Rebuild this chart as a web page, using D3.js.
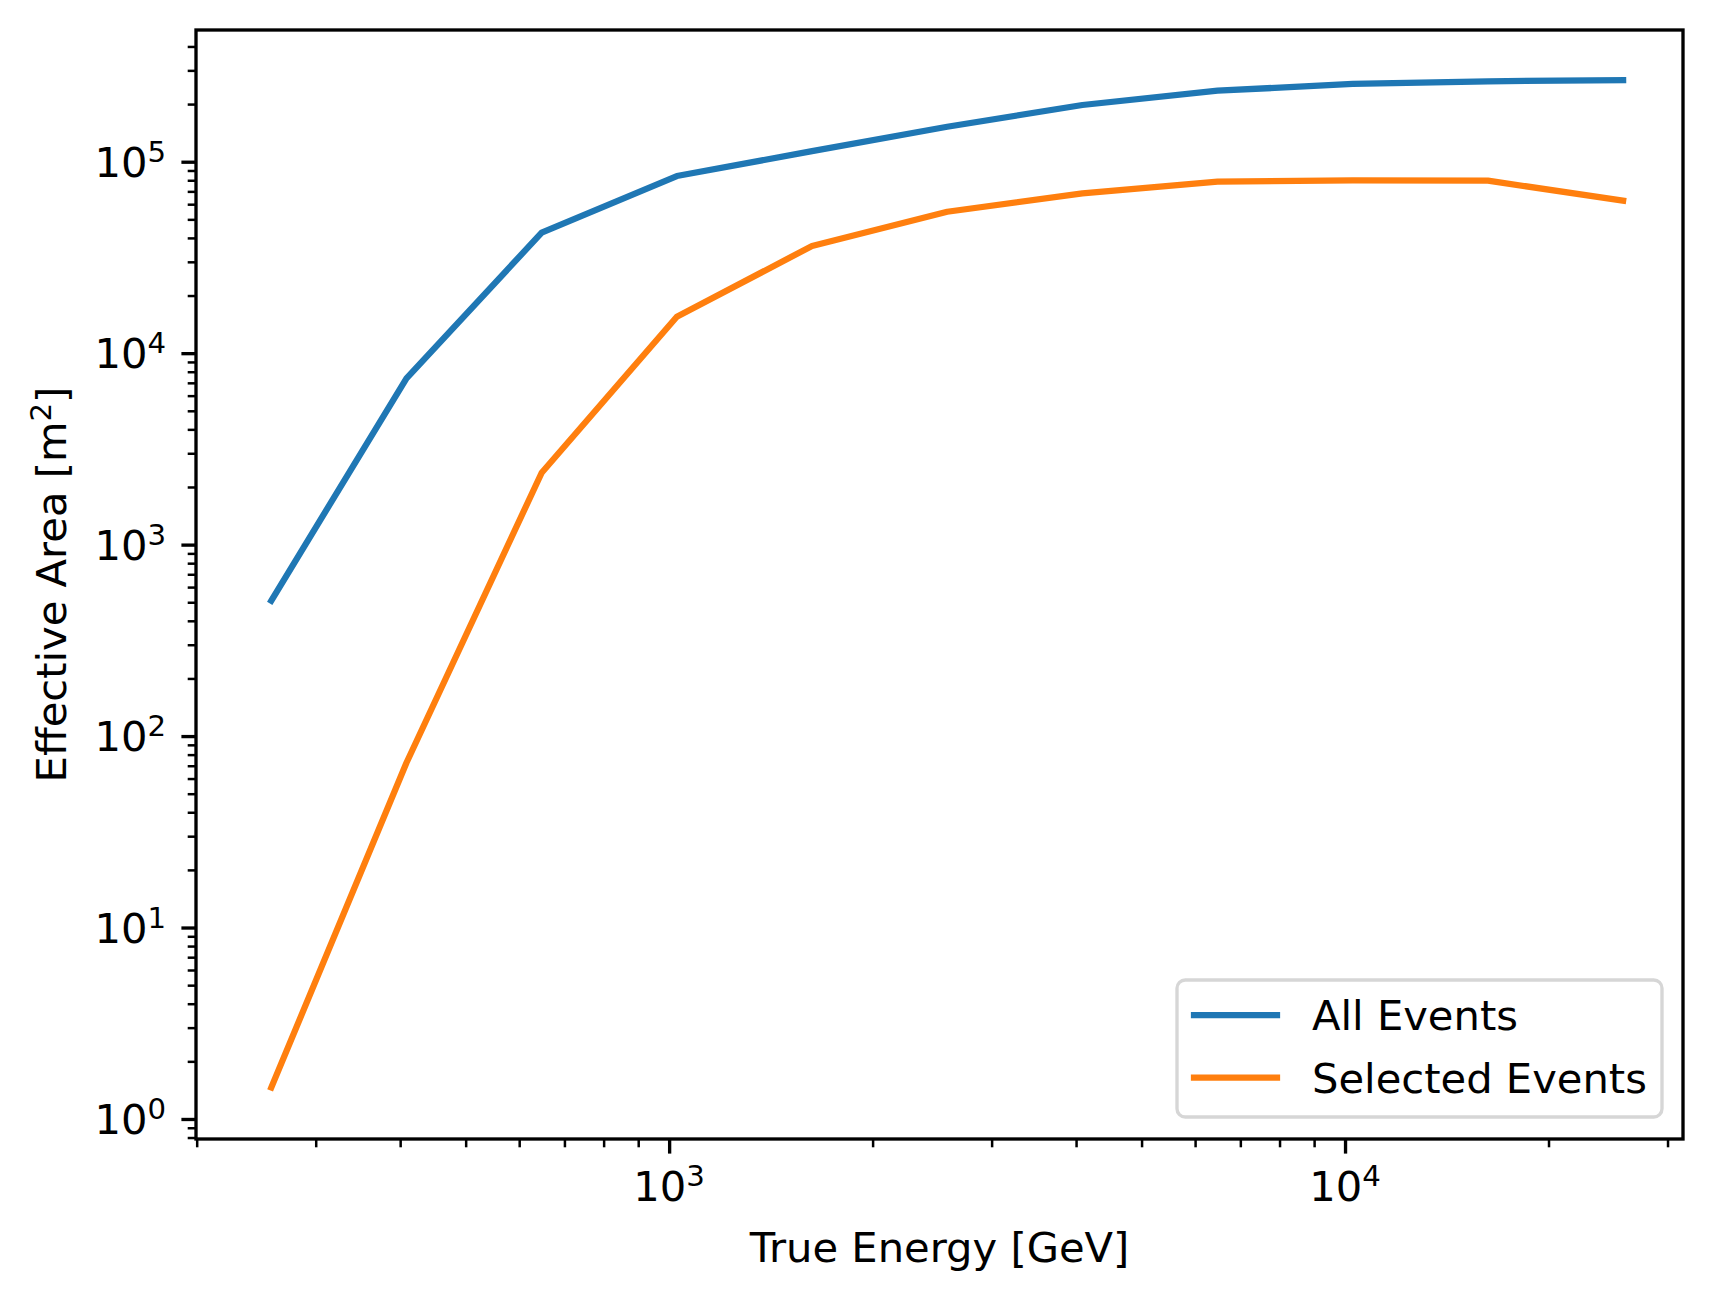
<!DOCTYPE html>
<html>
<head>
<meta charset="utf-8">
<script src="https://cdn.jsdelivr.net/npm/d3@7"></script>
<style>
  html, body { margin: 0; padding: 0; background: #ffffff; }
  svg { display: block; font-family: "DejaVu Sans", sans-serif; }
</style>
</head>
<body>
<svg id="chart" width="1713" height="1303"></svg>
<script>
// ---- data ----
const trueEnergy = [257.9, 408.7, 647.8, 1026.6, 1627.1, 2578.8, 4087.1, 6477.6, 10266, 16271, 25788];
const allEvents = [510, 7390, 42600, 84200, 113500, 152300, 197800, 234900, 254700, 263000, 267000];
const selectedEvents = [1.46, 72.6, 2375, 15500, 36300, 54800, 68400, 78700, 79900, 79600, 62600];
const seriesNames = ["All Events", "Selected Events"];
const seriesColors = ["#1f77b4", "#ff7f0e"];
const xDomain = [199.53, 31623];
const yDomain = [0.786, 487500];
const xTickExponents = [3, 4];
const yTickExponents = [0, 1, 2, 3, 4, 5];
const xLabel = "True Energy [GeV]";
const yLabelMain = "Effective Area [m";
const yLabelSup = "2";
const yLabelEnd = "]";

// ---- layout ----
const W = 1713, H = 1303;
const plot = { left: 196, right: 1683, top: 30, bottom: 1139 };
const FS = 41.67, SUP = 29.2;
const lw = 6.25, axLw = 3.33;
const majLen = 14.6, minLen = 8.3;

const svg = d3.select("#chart");
svg.append("rect").attr("x", 0).attr("y", 0).attr("width", W).attr("height", H).attr("fill", "#fff");

const x = d3.scaleLog().domain(xDomain).range([plot.left, plot.right]);
const y = d3.scaleLog().domain(yDomain).range([plot.bottom, plot.top]);

const xMajor = xTickExponents.map(e => Math.pow(10, e));
const yMajor = yTickExponents.map(e => Math.pow(10, e));
const isMajor = (v, arr) => arr.some(m => Math.abs(v - m) / m < 1e-6);
const xMinor = x.ticks().filter(v => !isMajor(v, xMajor) && v >= xDomain[0] && v <= xDomain[1]);
const yMinor = y.ticks().filter(v => !isMajor(v, yMajor) && v >= yDomain[0] && v <= yDomain[1]);

// clip for lines
svg.append("defs").append("clipPath").attr("id", "clip")
  .append("rect").attr("x", plot.left).attr("y", plot.top)
  .attr("width", plot.right - plot.left).attr("height", plot.bottom - plot.top);

// ---- series ----
const line = d3.line().x(d => x(d[0])).y(d => y(d[1]));
const seriesData = [allEvents, selectedEvents];
seriesData.forEach((vals, i) => {
  svg.append("path")
    .datum(trueEnergy.map((e, j) => [e, vals[j]]))
    .attr("d", line)
    .attr("fill", "none")
    .attr("stroke", seriesColors[i])
    .attr("stroke-width", lw)
    .attr("stroke-linecap", "square")
    .attr("stroke-linejoin", "round")
    .attr("clip-path", "url(#clip)");
});

// ---- axes (ticks via d3 axis) ----
const xAxisMaj = d3.axisBottom(x).tickValues(xMajor).tickSize(majLen).tickFormat("");
const xAxisMin = d3.axisBottom(x).tickValues(xMinor).tickSize(minLen).tickFormat("");
const yAxisMaj = d3.axisLeft(y).tickValues(yMajor).tickSize(majLen).tickFormat("");
const yAxisMin = d3.axisLeft(y).tickValues(yMinor).tickSize(minLen).tickFormat("");

function styleAxis(g, w) {
  g.select(".domain").remove();
  g.selectAll(".tick line").attr("stroke", "#000").attr("stroke-width", w);
}
svg.append("g").attr("transform", `translate(0,${plot.bottom})`).call(xAxisMaj).call(g => styleAxis(g, axLw));
svg.append("g").attr("transform", `translate(0,${plot.bottom})`).call(xAxisMin).call(g => styleAxis(g, 2.5));
svg.append("g").attr("transform", `translate(${plot.left},0)`).call(yAxisMaj).call(g => styleAxis(g, axLw));
svg.append("g").attr("transform", `translate(${plot.left},0)`).call(yAxisMin).call(g => styleAxis(g, 2.5));

// frame
svg.append("rect")
  .attr("x", plot.left).attr("y", plot.top)
  .attr("width", plot.right - plot.left).attr("height", plot.bottom - plot.top)
  .attr("fill", "none").attr("stroke", "#000").attr("stroke-width", axLw)
  .attr("stroke-linejoin", "miter");

// ---- tick labels ----
xTickExponents.forEach(e => {
  const t = svg.append("text")
    .attr("x", x(Math.pow(10, e))).attr("y", 1201)
    .attr("text-anchor", "middle").attr("font-size", FS).attr("fill", "#000");
  t.append("tspan").text("10");
  t.append("tspan").attr("dy", -15).attr("font-size", SUP).text(String(e));
});
yTickExponents.forEach(e => {
  const t = svg.append("text")
    .attr("x", 166).attr("y", y(Math.pow(10, e)) + 15)
    .attr("text-anchor", "end").attr("font-size", FS).attr("fill", "#000");
  t.append("tspan").text("10");
  t.append("tspan").attr("dy", -15).attr("font-size", SUP).text(String(e));
});

// ---- axis labels ----
svg.append("text")
  .attr("x", (plot.left + plot.right) / 2).attr("y", 1262)
  .attr("text-anchor", "middle").attr("font-size", FS).attr("fill", "#000")
  .text(xLabel);

const yl = svg.append("text")
  .attr("transform", `translate(66,${(plot.top + plot.bottom) / 2}) rotate(-90)`)
  .attr("text-anchor", "middle").attr("font-size", FS).attr("fill", "#000");
yl.append("tspan").text(yLabelMain);
yl.append("tspan").attr("dy", -15).attr("font-size", SUP).text(yLabelSup);
yl.append("tspan").attr("dy", 15).text(yLabelEnd);

// ---- legend ----
const leg = { x: 1177, y: 980, w: 485, h: 137 };
svg.append("rect")
  .attr("x", leg.x).attr("y", leg.y).attr("width", leg.w).attr("height", leg.h)
  .attr("rx", 8.3).attr("ry", 8.3)
  .attr("fill", "rgba(255,255,255,0.8)")
  .attr("stroke", "rgba(204,204,204,0.8)").attr("stroke-width", axLw);
const legRowsY = [1015, 1077.7];
seriesNames.forEach((name, i) => {
  svg.append("line")
    .attr("x1", 1194).attr("x2", 1277)
    .attr("y1", legRowsY[i]).attr("y2", legRowsY[i])
    .attr("stroke", seriesColors[i]).attr("stroke-width", lw)
    .attr("stroke-linecap", "square");
  svg.append("text")
    .attr("x", 1312).attr("y", legRowsY[i] + 15)
    .attr("font-size", FS).attr("fill", "#000")
    .text(name);
});
</script>
</body>
</html>
